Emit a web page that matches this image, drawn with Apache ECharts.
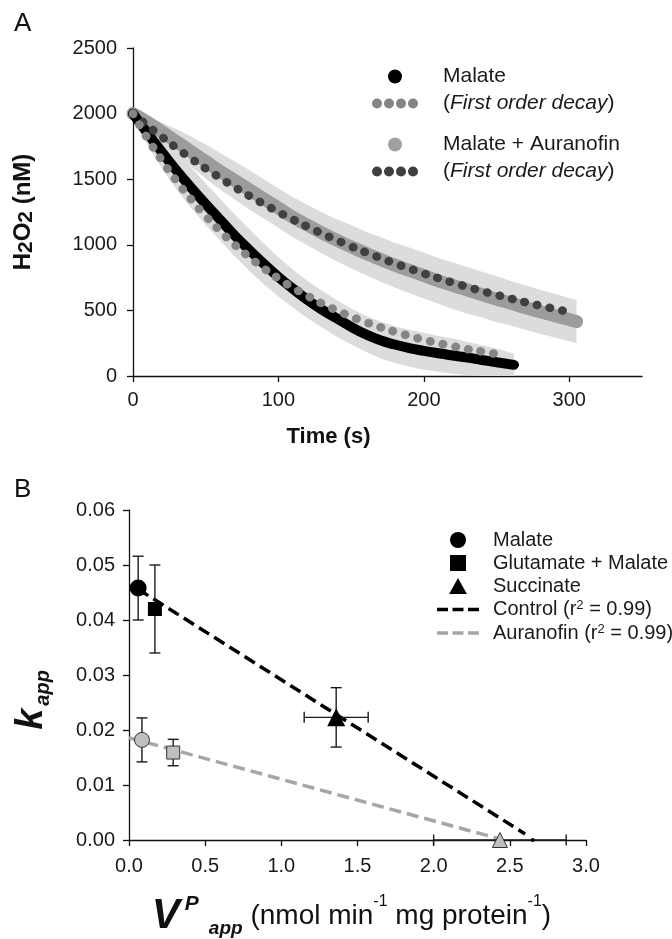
<!DOCTYPE html>
<html>
<head>
<meta charset="utf-8">
<script src="https://cdn.jsdelivr.net/npm/echarts@6/dist/echarts.min.js"></script>
<style>
html, body { margin: 0; padding: 0; background: #fff; }
#chart { width: 672px; height: 939px; }
</style>
</head>
<body>
<div id="chart"></div>
<script>
// ---- Panel A: H2O2 (nM) vs time (s) ----
var malateTime = [0, 10, 20, 30, 40, 50, 60, 70, 80, 90, 100, 110, 120, 130, 140, 150, 160, 170, 180, 190, 200, 210, 220, 230, 240, 250, 262]
var malateH2O2 = [2000, 1850, 1705, 1565, 1435, 1310, 1190, 1070, 960, 855, 755, 665, 580, 505, 440, 375, 318, 272, 240, 213, 192, 173, 156, 140, 122, 105, 85]
var malateSdLow = [1990, 1760, 1580, 1420, 1280, 1150, 1030, 910, 800, 700, 605, 520, 440, 370, 300, 240, 185, 135, 100, 70, 48, 32, 18, 8, 0, 0, 0]
var malateSdHigh = [2010, 1935, 1825, 1710, 1590, 1470, 1350, 1230, 1120, 1010, 905, 810, 725, 650, 580, 515, 460, 415, 380, 352, 330, 305, 285, 260, 235, 210, 170]

var auraTime = [0, 10, 20, 30, 40, 50, 60, 70, 80, 90, 100, 110, 120, 130, 140, 150, 160, 170, 180, 190, 200, 210, 220, 230, 240, 250, 260, 270, 280, 290, 300, 305]
var auraH2O2 = [2000, 1935, 1860, 1785, 1710, 1635, 1560, 1490, 1420, 1350, 1280, 1210, 1150, 1090, 1035, 985, 935, 890, 845, 805, 765, 725, 690, 655, 620, 585, 555, 520, 490, 460, 430, 415]
var auraSdLow = [1990, 1895, 1790, 1690, 1595, 1505, 1420, 1345, 1270, 1200, 1130, 1058, 995, 933, 875, 820, 770, 720, 675, 630, 590, 550, 510, 475, 445, 410, 385, 350, 322, 293, 265, 250]
var auraSdHigh = [2010, 1975, 1930, 1880, 1825, 1765, 1700, 1635, 1570, 1500, 1430, 1362, 1305, 1247, 1195, 1150, 1100, 1060, 1015, 980, 940, 900, 865, 830, 795, 760, 725, 690, 658, 627, 595, 580]

// first order decay fits
var malateFitTime = [0, 10, 20, 30, 40, 50, 60, 70, 80, 90, 100, 110, 120, 130, 140, 150, 160, 170, 180, 190, 200, 210, 220, 230, 240, 250, 254]
var malateFit = [2000, 1811, 1641, 1486, 1346, 1219, 1104, 1000, 906, 820, 743, 673, 610, 552, 500, 453, 410, 372, 337, 305, 276, 250, 227, 205, 186, 168, 162]
var auraFitTime = [0, 10, 20, 30, 40, 50, 60, 70, 80, 90, 100, 110, 120, 130, 140, 150, 160, 170, 180, 190, 200, 210, 220, 230, 240, 250, 260, 270, 280, 290, 300, 302]
var auraFit = [2000, 1908, 1821, 1737, 1657, 1581, 1509, 1439, 1373, 1310, 1250, 1193, 1138, 1086, 1036, 988, 943, 900, 858, 819, 781, 745, 711, 679, 647, 618, 589, 562, 536, 512, 488, 484]

// ---- Panel B: k_app vs V^P_app ----
var substrates = ['Malate', 'Glutamate + Malate', 'Succinate']
var controlVp = [0.06, 0.17, 1.36]
var controlK = [0.0458, 0.0420, 0.0223]
var controlVpErr = [0, 0, 0.21]
var controlKErr = [0.0058, 0.0080, 0.0054]
var auraVp = [0.085, 0.29, 2.435]
var auraK = [0.0182, 0.0159, 0.0]
var auraVpErr = [0, 0, 0.435]
var auraKErr = [0.0040, 0.0024, 0]
var controlLine = [[0.06, 0.0456], [2.6, 0.0011]]
var auraLine = [[0, 0.0186], [2.42, 0.0003]]
var controlIntercept = [[2.65, 0]]

var FONT = 'Liberation Sans, Arial, sans-serif'
var dotsIcon = 'path://M0,5a5,5 0 1,0 10,0a5,5 0 1,0 -10,0M12,5a5,5 0 1,0 10,0a5,5 0 1,0 -10,0M24,5a5,5 0 1,0 10,0a5,5 0 1,0 -10,0M36,5a5,5 0 1,0 10,0a5,5 0 1,0 -10,0'
var dashIcon = 'path://M0,0h11v3.5h-11zM15.5,0h11v3.5h-11zM31,0h11v3.5h-11z'
var squareIcon = 'path://M0,0h10v10h-10z'
var triangleIcon = 'path://M5,0L10,9L0,9z'

function pairs(xs, ys) {
  return xs.map(function(x, i) { return [x, ys[i]] })
}

function bandRenderer(times, low, high, color) {
  return function(params, api) {
    var pts = []
    for (var i = 0; i < times.length; i++) pts.push(api.coord([times[i], high[i]]))
    for (var j = times.length - 1; j >= 0; j--) pts.push(api.coord([times[j], low[j]]))
    return { type: 'polygon', shape: { points: pts }, style: { fill: color } }
  }
}

function errorBars(params, api) {
  var x = api.value(0), y = api.value(1), dx = api.value(2), dy = api.value(3)
  var cap = 5.5
  var style = { stroke: '#1a1a1a', lineWidth: 1.4 }
  var kids = []
  function seg(a, b) {
    kids.push({ type: 'line', shape: { x1: a[0], y1: a[1], x2: b[0], y2: b[1] }, style: style })
  }
  if (dy > 0) {
    var t = api.coord([x, y + dy]), b = api.coord([x, y - dy])
    seg(t, b)
    seg([t[0] - cap, t[1]], [t[0] + cap, t[1]])
    seg([b[0] - cap, b[1]], [b[0] + cap, b[1]])
  }
  if (dx > 0) {
    var l = api.coord([x - dx, y]), r = api.coord([x + dx, y])
    seg(l, r)
    seg([l[0], l[1] - cap], [l[0], l[1] + cap])
    seg([r[0], r[1] - cap], [r[0], r[1] + cap])
  }
  return { type: 'group', children: kids }
}

var errData = controlVp.map(function(v, i) { return [v, controlK[i], controlVpErr[i], controlKErr[i]] })
  .concat(auraVp.map(function(v, i) { return [v, auraK[i], auraVpErr[i], auraKErr[i]] }))

var axisCommon = {
  axisLine: { lineStyle: { color: '#111', width: 1.3 } },
  axisTick: { inside: false, length: 6, lineStyle: { color: '#111', width: 1.3 } },
  axisLabel: { color: '#1a1a1a', fontSize: 20, fontFamily: FONT },
  splitLine: { show: false }
}

var blackMark = { color: '#000', opacity: 1 }
var greyMark = { color: '#bfbfbf', borderColor: '#333', borderWidth: 1, opacity: 1 }

var chart = echarts.init(document.getElementById('chart'))
chart.setOption({
  animation: false,
  textStyle: { fontFamily: FONT },
  title: [
    { text: 'A', left: 9, top: 6, textStyle: { fontSize: 26, fontWeight: 'normal', color: '#111', fontFamily: FONT } },
    { text: 'B', left: 9, top: 472, textStyle: { fontSize: 26, fontWeight: 'normal', color: '#111', fontFamily: FONT } }
  ],
  grid: [
    { left: 133, top: 48, width: 509, height: 328 },
    { left: 129, top: 510, width: 457, height: 331 }
  ],
  xAxis: [
    Object.assign({}, axisCommon, {
      gridIndex: 0, type: 'value', min: 0, max: 350, interval: 100,
      axisLabel: Object.assign({}, axisCommon.axisLabel, { margin: 14, showMaxLabel: false }),
      name: 'Time (s)', nameLocation: 'middle', nameGap: 50,
      nameTextStyle: { fontSize: 22, fontWeight: 'bold', color: '#111', padding: [0, 118, 0, 0] }
    }),
    Object.assign({}, axisCommon, {
      gridIndex: 1, type: 'value', min: 0, max: 3, interval: 0.5,
      axisLabel: Object.assign({}, axisCommon.axisLabel, { margin: 16, formatter: function(v) { return v.toFixed(1) } }),
      name: '{v|V}{p|P}{s|app}{t| (nmol min}{u|-1}{t| mg protein}{u|-1}{t|)}',
      nameLocation: 'middle', nameGap: 54,
      nameTextStyle: {
        color: '#111',
        padding: [0, 12, 0, 0],
        rich: {
          v: { fontSize: 42, fontWeight: 'bold', fontStyle: 'italic', color: '#111', fontFamily: FONT, lineHeight: 44 },
          p: { fontSize: 21, fontWeight: 'bold', fontStyle: 'italic', color: '#111', fontFamily: FONT, verticalAlign: 'top', padding: [0, 0, 12, 5] },
          s: { fontSize: 19, fontWeight: 'bold', fontStyle: 'italic', color: '#111', fontFamily: FONT, verticalAlign: 'bottom', padding: [12, 0, 0, 10] },
          t: { fontSize: 28, color: '#111', fontFamily: FONT },
          u: { fontSize: 16, color: '#111', fontFamily: FONT, verticalAlign: 'top', padding: [0, 0, 10, 0] }
        }
      }
    })
  ],
  yAxis: [
    Object.assign({}, axisCommon, {
      gridIndex: 0, type: 'value', min: 0, max: 2500, interval: 500,
      axisLabel: Object.assign({}, axisCommon.axisLabel, { margin: 16, formatter: function(v) { return String(v) } }),
      name: 'H{sub|2}O{sub|2} (nM)', nameLocation: 'middle', nameGap: 96,
      nameTextStyle: {
        fontSize: 24, fontWeight: 'bold', color: '#111',
        rich: { sub: { fontSize: 21, fontWeight: 'bold', color: '#111', fontFamily: FONT, verticalAlign: 'bottom', padding: [6, 0, 0, 0] } }
      }
    }),
    Object.assign({}, axisCommon, {
      gridIndex: 1, type: 'value', min: 0, max: 0.06, interval: 0.01,
      axisLabel: Object.assign({}, axisCommon.axisLabel, { margin: 14, formatter: function(v) { return v.toFixed(2) } }),
      name: '{k|k}{a|app}', nameLocation: 'middle', nameGap: 76,
      nameTextStyle: {
        padding: [0, 50, 0, 0],
        rich: {
          k: { fontSize: 38, fontWeight: 'bold', fontStyle: 'italic', color: '#111', fontFamily: FONT, lineHeight: 42 },
          a: { fontSize: 20, fontWeight: 'bold', fontStyle: 'italic', color: '#111', fontFamily: FONT, verticalAlign: 'bottom', padding: [14, 0, 0, 3] }
        }
      }
    })
  ],
  legend: [
    {
      left: 372, top: 66, padding: 0, orient: 'vertical', itemWidth: 46, itemHeight: 14, itemGap: 6, selectedMode: false,
      itemStyle: { borderWidth: 0 },
      data: [{ name: 'Malate', icon: 'circle' }, { name: 'Malate fit', icon: dotsIcon }],
      formatter: function(n) { return /fit$/.test(n) ? '({i|First order decay})' : n },
      textStyle: { fontSize: 21, color: '#1a1a1a', padding: [0, 0, 0, 20], rich: { i: { fontSize: 21, fontStyle: 'italic', color: '#1a1a1a', fontFamily: FONT } } }
    },
    {
      left: 372, top: 134, padding: 0, orient: 'vertical', itemWidth: 46, itemHeight: 14, itemGap: 6, selectedMode: false,
      itemStyle: { borderWidth: 0 },
      data: [{ name: 'Malate + Auranofin', icon: 'circle' }, { name: 'Auranofin fit', icon: dotsIcon }],
      formatter: function(n) { return /fit$/.test(n) ? '({i|First order decay})' : n },
      textStyle: { fontSize: 21, color: '#1a1a1a', padding: [0, 0, 0, 20], rich: { i: { fontSize: 21, fontStyle: 'italic', color: '#1a1a1a', fontFamily: FONT } } }
    },
    {
      left: 437, top: 530, padding: 0, orient: 'vertical', itemWidth: 42, itemHeight: 16, itemGap: 3, selectedMode: false,
      itemStyle: { borderWidth: 0 },
      data: [
        { name: 'B Malate', icon: 'circle' },
        { name: 'B Glutamate + Malate', icon: squareIcon },
        { name: 'B Succinate', icon: triangleIcon },
        { name: 'Control', icon: dashIcon },
        { name: 'Auranofin', icon: dashIcon }
      ],
      formatter: function(n) {
        if (n === 'Control' || n === 'Auranofin') return '{t|' + n + ' (r}{u|2}{t| = 0.99)}'
        return n.replace(/^B /, '')
      },
      textStyle: {
        fontSize: 20, color: '#1a1a1a', padding: [0, 0, 0, 9],
        rich: {
          t: { fontSize: 20, color: '#1a1a1a', fontFamily: FONT },
          u: { fontSize: 13, color: '#1a1a1a', fontFamily: FONT, verticalAlign: 'top', padding: [0, 0, 8, 0] }
        }
      }
    }
  ],
  series: [
    // panel A: SD bands
    { type: 'custom', name: 'Malate SD', xAxisIndex: 0, yAxisIndex: 0, data: [0], z: 1, silent: true,
      renderItem: bandRenderer(malateTime, malateSdLow, malateSdHigh, '#dcdcdc') },
    { type: 'custom', name: 'Auranofin SD', xAxisIndex: 0, yAxisIndex: 0, data: [0], z: 1, silent: true,
      renderItem: bandRenderer(auraTime, auraSdLow, auraSdHigh, '#dcdcdc') },
    // measured traces
    { type: 'line', name: 'Malate + Auranofin', xAxisIndex: 0, yAxisIndex: 0, z: 2, color: '#a0a0a0',
      data: pairs(auraTime, auraH2O2), smooth: true, showSymbol: false,
      lineStyle: { width: 13, color: '#9c9c9c', cap: 'round' } },
    { type: 'line', name: 'Malate', xAxisIndex: 0, yAxisIndex: 0, z: 3, color: '#000',
      data: pairs(malateTime, malateH2O2), smooth: true, showSymbol: false,
      lineStyle: { width: 10, color: '#000', cap: 'round' } },
    // first order decay fits, drawn as round dots
    { type: 'line', name: 'Auranofin fit', xAxisIndex: 0, yAxisIndex: 0, z: 4, color: '#404040',
      data: pairs(auraFitTime, auraFit), smooth: true, showSymbol: false,
      lineStyle: { width: 8.5, color: '#404040', type: [0.5, 12.4], cap: 'round' } },
    { type: 'line', name: 'Malate fit', xAxisIndex: 0, yAxisIndex: 0, z: 4, color: '#858585',
      data: pairs(malateFitTime, malateFit), smooth: true, showSymbol: false,
      lineStyle: { width: 8.5, color: '#858585', type: [0.5, 12.4], cap: 'round' } },

    // panel B: regression lines
    { type: 'line', name: 'Control', xAxisIndex: 1, yAxisIndex: 1, z: 2, color: '#000', data: controlLine,
      showSymbol: false, lineStyle: { width: 3.5, color: '#000', type: [12, 6] } },
    { type: 'line', name: 'Auranofin', xAxisIndex: 1, yAxisIndex: 1, z: 2, color: '#a6a6a6', data: auraLine,
      showSymbol: false, lineStyle: { width: 3.5, color: '#a6a6a6', type: [12, 6] } },
    { type: 'scatter', name: 'intercept', xAxisIndex: 1, yAxisIndex: 1, z: 3, data: controlIntercept,
      symbolSize: 4, itemStyle: blackMark },
    { type: 'custom', name: 'errors', xAxisIndex: 1, yAxisIndex: 1, z: 3, data: errData, renderItem: errorBars,
      encode: { x: 0, y: 1 } },
    // control markers
    { type: 'scatter', name: 'B Malate', xAxisIndex: 1, yAxisIndex: 1, z: 5, symbol: 'circle', symbolSize: 17,
      color: '#000', itemStyle: blackMark, data: [[controlVp[0], controlK[0]]] },
    { type: 'scatter', name: 'B Glutamate + Malate', xAxisIndex: 1, yAxisIndex: 1, z: 5, symbol: 'rect', symbolSize: 14,
      color: '#000', itemStyle: blackMark, data: [[controlVp[1], controlK[1]]] },
    { type: 'scatter', name: 'B Succinate', xAxisIndex: 1, yAxisIndex: 1, z: 5, symbol: 'triangle', symbolSize: 18,
      color: '#000', itemStyle: blackMark, data: [[controlVp[2], controlK[2]]] },
    // auranofin markers
    { type: 'scatter', name: 'aura circle', xAxisIndex: 1, yAxisIndex: 1, z: 5, symbol: 'circle', symbolSize: 15,
      itemStyle: greyMark, data: [[auraVp[0], auraK[0]]] },
    { type: 'scatter', name: 'aura square', xAxisIndex: 1, yAxisIndex: 1, z: 5, symbol: 'rect', symbolSize: 13,
      itemStyle: greyMark, data: [[auraVp[1], auraK[1]]] },
    { type: 'scatter', name: 'aura triangle', xAxisIndex: 1, yAxisIndex: 1, z: 5, symbol: 'triangle', symbolSize: 15,
      itemStyle: greyMark, data: [[auraVp[2], auraK[2]]] }
  ]
})
</script>
</body>
</html>
